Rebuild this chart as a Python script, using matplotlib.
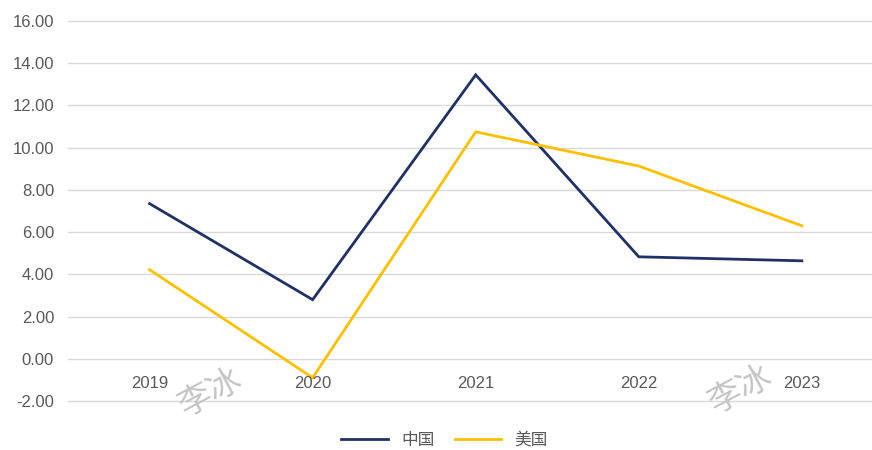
import matplotlib
matplotlib.use("Agg")
import matplotlib.pyplot as plt
from matplotlib.ticker import MultipleLocator, FormatStrFormatter

plt.rcParams['font.family'] = ['Liberation Sans', 'Noto Sans CJK SC', 'DejaVu Sans']

years = ["2019", "2020", "2021", "2022", "2023"]
china = [7.35, 2.8, 13.45, 4.83, 4.64]
usa = [4.22, -0.9, 10.75, 9.13, 6.3]

navy, gold, grey = "#1F3166", "#FFC000", "#595959"

fig = plt.figure(figsize=(8.72, 4.5), dpi=100)
ax = fig.add_axes([68/872, 49/450, 804/872, 380/450])

x = range(len(years))
ax.plot(x, china, color=navy, lw=2, label="中国", solid_joinstyle="miter")
ax.plot(x, usa, color=gold, lw=2, label="美国", solid_joinstyle="miter")

ax.set_ylim(-2, 16)
ax.set_xlim(-0.5, 4.43)
ax.yaxis.set_major_locator(MultipleLocator(2))
ax.yaxis.set_major_formatter(FormatStrFormatter("%.2f"))
ax.grid(axis="y", color="#D9D9D9", lw=1)
for gl in ax.get_ygridlines():
    gl.set_clip_on(False)
ax.set_axisbelow(True)
for s in ax.spines.values():
    s.set_visible(False)
ax.tick_params(axis="y", length=0, pad=10, labelsize=12, labelcolor=grey)

# category labels sit just under the zero line
ax.set_xticks([])
for i, yr in enumerate(years):
    ax.text(i, -0.82, yr, ha="center", va="top", fontsize=12, color=grey)

# watermarks
for wx, wy in [(0.177, 0.024), (0.836, 0.032)]:
    ax.text(wx, wy, "李冰", transform=ax.transAxes, fontsize=24, color="#C4C4C4",
            rotation=28, ha="center", va="center", family=['Noto Sans CJK SC'],
            fontweight="light")

fig.legend(loc="center", bbox_to_anchor=(0.51, 0.022), ncol=2, frameon=False,
           fontsize=12, handlelength=2.8, columnspacing=1.2, labelcolor=grey)

fig.savefig("out.png", dpi=100)
